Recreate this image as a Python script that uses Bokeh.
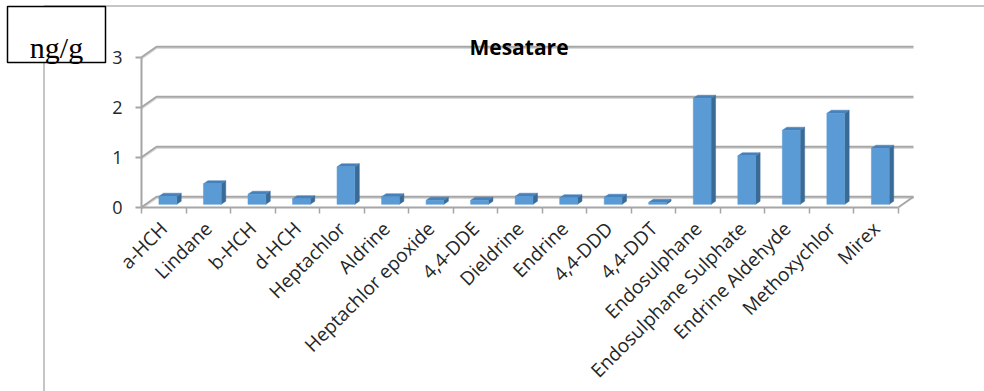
import math
from bokeh.plotting import figure
from bokeh.models import LinearAxis, FixedTicker, Label, BoxAnnotation
from bokeh.embed import file_html
from bokeh.resources import INLINE

categories = ["a-HCH", "Lindane", "b-HCH", "d-HCH", "Heptachlor", "Aldrine",
              "Heptachlor epoxide", "4,4-DDE", "Dieldrine", "Endrine", "4,4-DDD",
              "4,4-DDT", "Endosulphane", "Endosulphane Sulphate", "Endrine Aldehyde",
              "Methoxychlor", "Mirex"]
values = [0.16, 0.41, 0.20, 0.11, 0.75, 0.15, 0.08, 0.08, 0.16, 0.13, 0.14,
          0.04, 2.12, 0.97, 1.48, 1.82, 1.12]
y_ticks = [0, 1, 2, 3]
title_text = "Mesatare"
unit_text = "ng/g"

# ---- layout (pixels) ----
W, H = 984, 391
X0_PX = 141.0      # left end of category axis
CAT_PX = 44.53     # width of one category
Y0_PX = 206.7      # value 0 on the front plane (from top)
UNIT_PX = 50.0     # pixels per unit
DEPTH_DX_PX = 15.0
DEPTH_DY_PX = 10.5

n = len(categories)
x_start = -X0_PX / CAT_PX
x_end = (W - X0_PX) / CAT_PX
y_end = Y0_PX / UNIT_PX
y_start = -(H - Y0_PX) / UNIT_PX
ddx = DEPTH_DX_PX / CAT_PX
ddy = DEPTH_DY_PX / UNIT_PX

p = figure(width=W, height=H, x_range=(x_start, x_end), y_range=(y_start, y_end),
           output_backend="svg", toolbar_location=None, min_border=0,
           x_axis_location=None, y_axis_location=None, outline_line_color=None,
           background_fill_color="white", border_fill_color="white")
p.grid.visible = False

GRID = "#A6A6A6"
SHADOW = "#DADADA"

# back-wall / side-wall gridlines
gx, gy, sx, sy = [], [], [], []
for t in y_ticks:
    gx.append([0, ddx, n + ddx]); gy.append([t, t + ddy, t + ddy])
    sy.append([t - 1.6 / UNIT_PX, t + ddy - 1.6 / UNIT_PX, t + ddy - 1.6 / UNIT_PX])
    sx.append([0, ddx, n + ddx])
# floor right edge
gx.append([n, n + ddx]); gy.append([0, ddy])
p.multi_line(sx, sy, line_color=SHADOW, line_width=1.5)
p.multi_line(gx, gy, line_color=GRID, line_width=2)

# bars (3D)
f0, f1, bw = 0.27, 0.57, 0.40
front_x, front_y, side_x, side_y, top_x, top_y = [], [], [], [], [], []
for i, v in enumerate(values):
    cx = i + 0.5
    x0 = cx - bw / 2 + f0 * ddx
    x1 = cx + bw / 2 + f0 * ddx
    yb = f0 * ddy
    yt = v + f0 * ddy
    bx = (f1 - f0) * ddx
    by = (f1 - f0) * ddy
    front_x.append([x0, x1, x1, x0]); front_y.append([yb, yb, yt, yt])
    side_x.append([x1, x1 + bx, x1 + bx, x1]); side_y.append([yb, yb + by, yt + by, yt])
    top_x.append([x0, x1, x1 + bx, x0 + bx]); top_y.append([yt, yt, yt + by, yt + by])
p.patches(side_x, side_y, fill_color="#3A6A96", line_color="#3A6A96", line_width=0.5)
p.patches(top_x, top_y, fill_color="#4681BC", line_color="#4681BC", line_width=0.5)
p.patches(front_x, front_y, fill_color="#5B9BD5", line_color="#5B9BD5", line_width=0.5)

LABEL_FONT = "Open Sans"
LABEL_COLOR = "#262626"

# value axis
yax = LinearAxis(fixed_location=0, bounds=(0, max(y_ticks)),
                 ticker=FixedTicker(ticks=y_ticks, minor_ticks=[]))
yax.axis_line_color = GRID
yax.axis_line_width = 2
yax.major_tick_line_color = GRID
yax.major_tick_line_width = 2
yax.major_tick_out = 6
yax.major_tick_in = 0
yax.minor_tick_out = 0
yax.major_label_standoff = 13
yax.major_label_text_font = LABEL_FONT
yax.major_label_text_font_size = "18px"
yax.major_label_text_color = LABEL_COLOR
p.add_layout(yax, "left")

# category axis
centers = [i + 0.5 for i in range(n)]
xax = LinearAxis(fixed_location=0, bounds=(0, n),
                 ticker=FixedTicker(ticks=centers, minor_ticks=list(range(n + 1))))
xax.major_label_overrides = {c: name for c, name in zip(centers, categories)}
xax.axis_line_color = GRID
xax.axis_line_width = 2
xax.major_tick_out = 0
xax.major_tick_in = 0
xax.minor_tick_line_color = GRID
xax.minor_tick_line_width = 1.5
xax.minor_tick_out = 6
xax.minor_tick_in = 0
xax.major_label_orientation = math.pi / 4
xax.major_label_standoff = 12
xax.major_label_text_font = LABEL_FONT
xax.major_label_text_font_size = "19px"
xax.major_label_text_color = LABEL_COLOR
p.add_layout(xax, "below")

# chart-area border (partially visible)
frame = BoxAnnotation(left=43.5, right=W + 10, top=H - 5.5, bottom=-10,
                      left_units="screen", right_units="screen",
                      top_units="screen", bottom_units="screen",
                      fill_alpha=0, line_color="#8C8C8C", line_alpha=1, line_width=1)
p.add_layout(frame)

# title
p.add_layout(Label(x=518.5, y=H - 46, x_units="screen", y_units="screen",
                   text=title_text, text_align="center", text_baseline="alphabetic",
                   text_font="Open Sans", text_font_style="bold",
                   text_font_size="21px", text_color="black"))

# unit box
unit_box = BoxAnnotation(left=7, right=105, top=H - 6, bottom=H - 62,
                         left_units="screen", right_units="screen",
                         top_units="screen", bottom_units="screen",
                         fill_color="white", fill_alpha=1,
                         line_color="black", line_alpha=1, line_width=1.5)
p.add_layout(unit_box)
p.add_layout(Label(x=56, y=H - 47, x_units="screen", y_units="screen",
                   text=unit_text, text_align="center", text_baseline="alphabetic",
                   text_font="Liberation Serif", text_font_size="30px",
                   text_color="black"))

open("out.html", "w").write(file_html(p, INLINE))
